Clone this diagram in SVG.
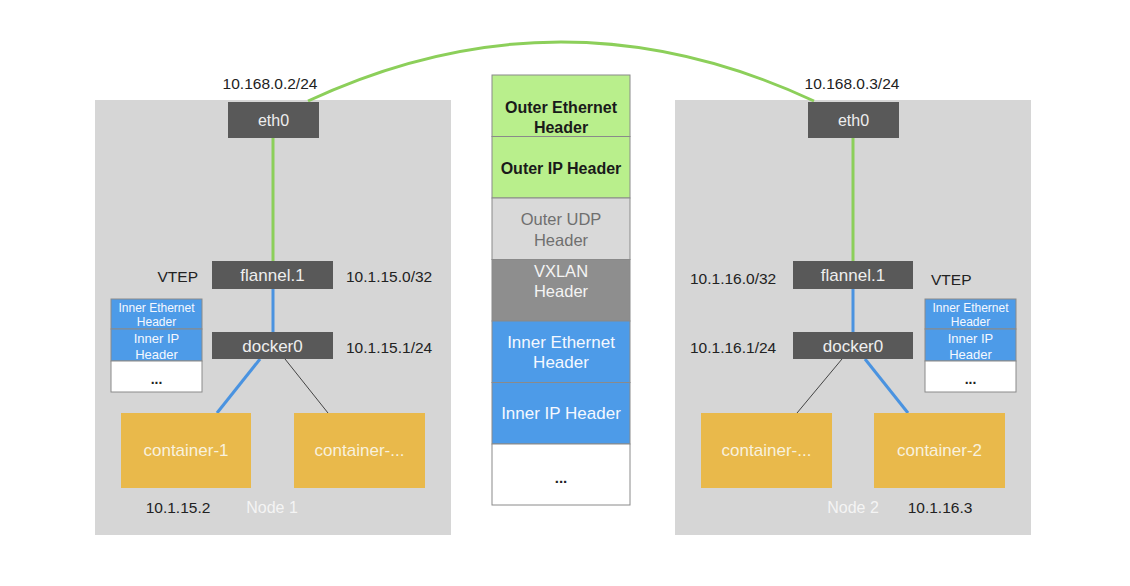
<svg xmlns="http://www.w3.org/2000/svg" width="1130" height="586" viewBox="0 0 1130 586">
<style>
text{font-family:"Liberation Sans",Arial,sans-serif;}
.node{fill:#d6d6d6;}
.dark{fill:#595959;}
.dt{fill:#eeeeee;font-size:17px;text-anchor:middle;dominant-baseline:central;}
.lbl{fill:#222;font-size:15.5px;dominant-baseline:central;}
.cont{fill:#e9b94b;}
.ct{fill:#f8f1de;font-size:17px;text-anchor:middle;dominant-baseline:central;}
.nl{fill:#f4f4f4;font-size:16px;text-anchor:middle;dominant-baseline:central;}
.green{stroke:#8ccf5a;stroke-width:3;fill:none;}
.blue{stroke:#4a93e0;stroke-width:3;fill:none;}
.thin{stroke:#444;stroke-width:1;fill:none;}
.sec{stroke:#8a8a8a;stroke-width:1;}
.g{fill:#b9ef8c;}
.lg{fill:#d9d9d9;}
.dg{fill:#8e8e8e;}
.bl{fill:#4d9be8;}
.wh{fill:#ffffff;}
.st{font-size:17px;text-anchor:middle;dominant-baseline:central;}
.stb{font-size:16px;font-weight:bold;text-anchor:middle;dominant-baseline:central;fill:#1a1a1a;}
.sm{font-size:12px;text-anchor:middle;dominant-baseline:central;fill:#f4f8ff;}
.dots{fill:#222;font-weight:bold;text-anchor:middle;dominant-baseline:central;}
</style>

<g id="node1">
<rect class="node" x="95" y="100" width="356" height="435"/>
<text class="nl" x="272" y="507">Node 1</text>
</g>
<g id="node2">
<rect class="node" x="675" y="100" width="356" height="435"/>
<text class="nl" x="853" y="507">Node 2</text>
</g>

<g id="connectors">
<path class="green" d="M308,101 Q561,-17 814,101"/>
<line class="green" x1="273" y1="138" x2="273" y2="261"/>
<line class="blue" x1="273" y1="289" x2="273" y2="332"/>
<line class="blue" x1="260" y1="359" x2="217" y2="413"/>
<line class="thin" x1="285" y1="359" x2="328" y2="413"/>
<line class="green" x1="853" y1="138" x2="853" y2="261"/>
<line class="blue" x1="853" y1="289" x2="853" y2="332"/>
<line class="thin" x1="842" y1="359" x2="797" y2="413"/>
<line class="blue" x1="865" y1="359" x2="908" y2="413"/>
</g>

<g id="eth0-1">
<rect class="dark" x="228" y="102" width="91" height="36"/>
<text class="dt" x="273.5" y="120" style="font-size:16px">eth0</text>
</g>
<g id="ip-eth0-1"><text class="lbl" x="270" y="83" text-anchor="middle">10.168.0.2/24</text></g>
<g id="flannel-1">
<rect class="dark" x="212" y="261" width="121" height="28"/>
<text class="dt" x="272.5" y="275">flannel.1</text>
</g>
<g id="vtep-1"><text class="lbl" x="198" y="276" text-anchor="end">VTEP</text></g>
<g id="ip-flannel-1"><text class="lbl" x="346" y="276">10.1.15.0/32</text></g>
<g id="docker0-1">
<rect class="dark" x="212" y="332" width="121" height="27"/>
<text class="dt" x="272.5" y="346">docker0</text>
</g>
<g id="ip-docker0-1"><text class="lbl" x="346" y="347">10.1.15.1/24</text></g>
<g id="pkt-1">
<rect class="bl sec" x="111" y="299" width="91" height="30"/>
<rect class="bl sec" x="111" y="329" width="91" height="32"/>
<rect class="wh sec" x="111" y="361" width="91" height="31"/>
<text class="sm" x="156.5" y="308">Inner Ethernet</text>
<text class="sm" x="156.5" y="322">Header</text>
<text class="sm" x="156.5" y="338" style="font-size:13px">Inner IP</text>
<text class="sm" x="156.5" y="354" style="font-size:13px">Header</text>
<text class="dots" x="156.5" y="379" style="font-size:14px">...</text>
</g>
<g id="container-1">
<rect class="cont" x="121" y="413" width="130" height="75"/>
<text class="ct" x="186" y="450.5">container-1</text>
</g>
<g id="container-x1">
<rect class="cont" x="294" y="413" width="131" height="75"/>
<text class="ct" x="359.5" y="450.5">container-...</text>
</g>
<g id="ip-c1"><text class="lbl" x="178" y="507" text-anchor="middle">10.1.15.2</text></g>

<g id="eth0-2">
<rect class="dark" x="808" y="102" width="91" height="36"/>
<text class="dt" x="853.5" y="120" style="font-size:16px">eth0</text>
</g>
<g id="ip-eth0-2"><text class="lbl" x="852" y="83" text-anchor="middle">10.168.0.3/24</text></g>
<g id="flannel-2">
<rect class="dark" x="793" y="261" width="120" height="28"/>
<text class="dt" x="853" y="275">flannel.1</text>
</g>
<g id="ip-flannel-2"><text class="lbl" x="690" y="278">10.1.16.0/32</text></g>
<g id="vtep-2"><text class="lbl" x="931" y="279">VTEP</text></g>
<g id="docker0-2">
<rect class="dark" x="793" y="332" width="120" height="27"/>
<text class="dt" x="853" y="346">docker0</text>
</g>
<g id="ip-docker0-2"><text class="lbl" x="690" y="347">10.1.16.1/24</text></g>
<g id="pkt-2">
<rect class="bl sec" x="925" y="299" width="91" height="30"/>
<rect class="bl sec" x="925" y="329" width="91" height="32"/>
<rect class="wh sec" x="925" y="361" width="91" height="31"/>
<text class="sm" x="970.5" y="308">Inner Ethernet</text>
<text class="sm" x="970.5" y="322">Header</text>
<text class="sm" x="970.5" y="338" style="font-size:13px">Inner IP</text>
<text class="sm" x="970.5" y="354" style="font-size:13px">Header</text>
<text class="dots" x="970.5" y="379" style="font-size:14px">...</text>
</g>
<g id="container-x2">
<rect class="cont" x="701" y="413" width="131" height="75"/>
<text class="ct" x="766.5" y="450.5">container-...</text>
</g>
<g id="container-2">
<rect class="cont" x="874" y="413" width="131" height="75"/>
<text class="ct" x="939.5" y="450.5">container-2</text>
</g>
<g id="ip-c2"><text class="lbl" x="940" y="507" text-anchor="middle">10.1.16.3</text></g>

<g id="packet">
<rect class="g sec" x="492" y="75" width="138" height="61.5"/>
<rect class="g sec" x="492" y="136.5" width="138" height="61.5"/>
<rect class="lg sec" x="492" y="198" width="138" height="61.5"/>
<rect class="dg sec" x="492" y="259.5" width="138" height="61.5"/>
<rect class="bl sec" x="492" y="321" width="138" height="61.5"/>
<rect class="bl sec" x="492" y="382.5" width="138" height="61.5"/>
<rect class="wh sec" x="492" y="444" width="138" height="61"/>
<text class="stb" x="561" y="107">Outer Ethernet</text>
<text class="stb" x="561" y="127">Header</text>
<text class="stb" x="561" y="168">Outer IP Header</text>
<text class="st" x="561" y="219" style="fill:#6f6f6f;font-size:16.5px">Outer UDP</text>
<text class="st" x="561" y="240" style="fill:#6f6f6f;font-size:16.5px">Header</text>
<text class="st" x="561" y="271" style="fill:#f4f4f4;font-size:16.5px">VXLAN</text>
<text class="st" x="561" y="291" style="fill:#f4f4f4;font-size:16.5px">Header</text>
<text class="st" x="561" y="342" style="fill:#f4f8ff">Inner Ethernet</text>
<text class="st" x="561" y="362" style="fill:#f4f8ff">Header</text>
<text class="st" x="561" y="413" style="fill:#f4f8ff">Inner IP Header</text>
<text class="dots" x="561" y="477" style="font-size:15px">...</text>
</g>
</svg>
